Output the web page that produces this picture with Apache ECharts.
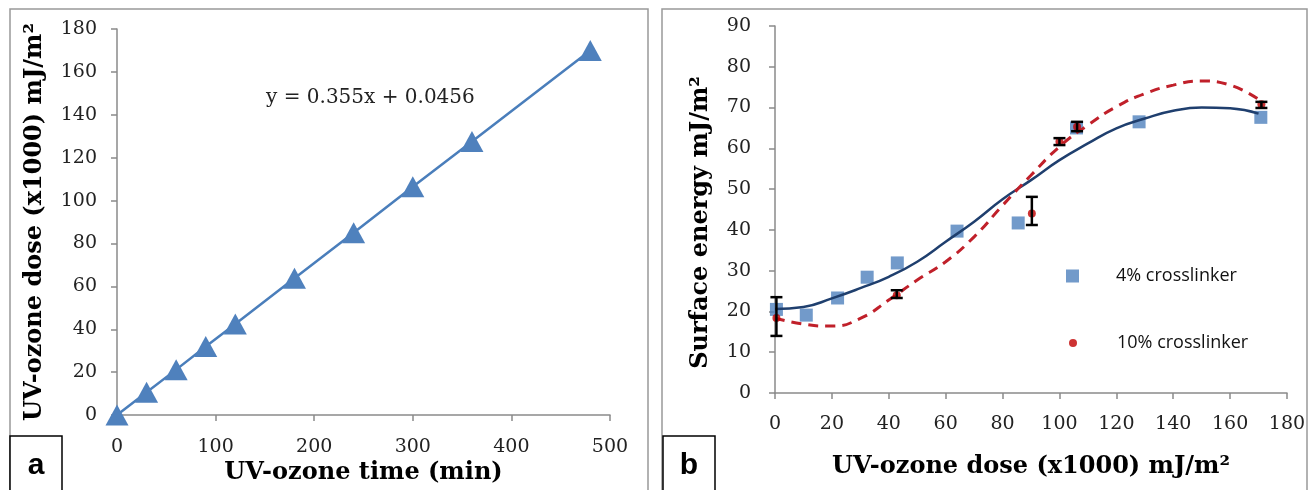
<!DOCTYPE html>
<html>
<head>
<meta charset="utf-8">
<script src="https://cdn.jsdelivr.net/npm/echarts@6/dist/echarts.min.js"></script>
<style>
html, body { margin: 0; padding: 0; background: #fff; }
#chart { width: 1310px; height: 490px; }
</style>
</head>
<body>
<div id="chart"></div>
<script>
// panel a: exposure time -> dose
const timeMin = [0, 30, 60, 90, 120, 180, 240, 300, 360, 480]
const doseK = [0, 10.6, 21.2, 32, 42.5, 63.8, 85, 106.5, 127.5, 170]

// panel b: surface energy
const dose4 = [0.5, 11, 22, 32.4, 43, 64, 85.5, 106, 128, 170.8]
const energy4 = [20.5, 19.1, 23.3, 28.4, 31.9, 39.7, 41.7, 65, 66.5, 67.6]
const dose10 = [0.5, 42.8, 90.3, 100, 106.2, 171]
const energy10 = [18.4, 24, 44, 61.6, 65.3, 70.8]
const errX = [0.5, 42.8, 90.3, 100, 106.2, 171]
const errLow = [14, 23.3, 41.2, 60.8, 64.2, 69.9]
const errHigh = [23.5, 25.2, 48.1, 62.5, 66.5, 71.4]

// trend lines
const fitX = [0, 10, 20, 30, 40, 50, 60, 70, 80, 90, 100, 110, 120, 130, 140, 150, 160, 170]
const fit4 = [20.6, 21.1, 23.2, 25.7, 28.5, 32.2, 37.1, 42, 47.5, 52.2, 57.1, 61.2, 64.9, 67.3, 69.2, 70.0, 69.8, 68.5]
const fit10 = [18.4, 16.9, 16.4, 18.3, 22.8, 27.7, 32.2, 38.3, 46, 53.4, 60.4, 65.7, 70.2, 73.4, 75.5, 76.5, 75.5, 72.0]

const serif = 'DejaVu Serif'
const axisGrey = '#8a8a8a'

const zip = (a, b) => a.map((v, i) => [v, b[i]])

function axisBase (extra) {
  return Object.assign({
    type: 'value',
    splitLine: { show: false },
    axisLine: { show: true, lineStyle: { color: axisGrey, width: 1.5 } },
    axisTick: { show: true, length: 6, lineStyle: { color: axisGrey, width: 1.5 } },
    axisLabel: { color: '#222', fontFamily: serif, fontSize: 19 },
    nameLocation: 'middle',
    nameTextStyle: { color: '#000', fontFamily: serif, fontWeight: 'bold', fontSize: 24 }
  }, extra)
}

function labelBox (x, text) {
  return {
    type: 'group',
    children: [
      { type: 'rect', shape: { x: x, y: 436, width: 52, height: 60 }, style: { fill: '#fff', stroke: '#000', lineWidth: 1.5 } },
      { type: 'text', x: x + 26, y: 466, style: { text: text, fill: '#000', font: 'bold 30px "Liberation Sans"', align: 'center', verticalAlign: 'middle' } }
    ]
  }
}

const option = {
  animation: false,
  backgroundColor: '#fff',
  grid: [
    { left: 117, top: 29, width: 493, height: 387 },
    { left: 775, top: 26, width: 512, height: 367 }
  ],
  xAxis: [
    axisBase({ gridIndex: 0, min: 0, max: 500, interval: 100, name: 'UV-ozone time (min)', nameGap: 45,
      axisLabel: { color: '#222', fontFamily: serif, fontSize: 19, margin: 22 } }),
    axisBase({ gridIndex: 1, min: 0, max: 180, interval: 20, name: 'UV-ozone dose (x1000) mJ/m²', nameGap: 62,
      axisLabel: { color: '#222', fontFamily: serif, fontSize: 19, margin: 22 } })
  ],
  yAxis: [
    axisBase({ gridIndex: 0, min: 0, max: 180, interval: 20, name: 'UV-ozone dose (x1000) mJ/m²', nameGap: 70,
      axisLabel: { color: '#222', fontFamily: serif, fontSize: 19, margin: 20 } }),
    axisBase({ gridIndex: 1, min: 0, max: 90, interval: 10, name: 'Surface energy mJ/m²', nameGap: 62,
      nameTextStyle: { color: '#000', fontFamily: serif, fontWeight: 'bold', fontSize: 24, padding: [0, 26, 0, 0] },
      axisLabel: { color: '#222', fontFamily: serif, fontSize: 19, margin: 24 } })
  ],
  legend: [
    {
      data: ['4% crosslinker'], left: 1061, top: 262, orient: 'vertical',
      icon: 'rect', itemWidth: 13, itemHeight: 13,
      textStyle: { color: '#111', fontFamily: 'Open Sans', fontSize: 18, padding: [0, 0, 0, 32] }
    },
    {
      data: ['10% crosslinker'], left: 1064, top: 329, orient: 'vertical',
      icon: 'circle', itemWidth: 8, itemHeight: 8,
      textStyle: { color: '#111', fontFamily: 'Open Sans', fontSize: 18, padding: [0, 0, 0, 35] }
    }
  ],
  series: [
    {
      name: 'dose',
      type: 'line',
      xAxisIndex: 0,
      yAxisIndex: 0,
      data: zip(timeMin, doseK),
      symbol: 'triangle',
      symbolSize: [23, 21],
      clip: false,
      lineStyle: { color: '#4a7ebb', width: 2.5 },
      itemStyle: { color: '#4f81bd' },
      markPoint: {
        symbolSize: 0,
        data: [{ coord: [257, 148] }],
        label: { show: true, position: 'inside', formatter: 'y = 0.355x + 0.0456', color: '#222', fontFamily: serif, fontSize: 20 }
      }
    },
    {
      name: '4% crosslinker',
      type: 'scatter',
      xAxisIndex: 1,
      yAxisIndex: 1,
      data: zip(dose4, energy4),
      symbol: 'rect',
      symbolSize: 13,
      clip: false,
      itemStyle: { color: '#4f81bd' },
      z: 2
    },
    {
      name: 'fit 4%',
      type: 'line',
      xAxisIndex: 1,
      yAxisIndex: 1,
      data: zip(fitX, fit4),
      smooth: true,
      showSymbol: false,
      lineStyle: { color: '#1f3f6e', width: 2.5 },
      z: 3
    },
    {
      name: 'fit 10%',
      type: 'line',
      xAxisIndex: 1,
      yAxisIndex: 1,
      data: zip(fitX, fit10),
      smooth: true,
      showSymbol: false,
      lineStyle: { color: '#c0202a', width: 3, type: [10, 7] },
      z: 3
    },
    {
      name: '10% crosslinker',
      type: 'scatter',
      xAxisIndex: 1,
      yAxisIndex: 1,
      data: zip(dose10, energy10),
      symbol: 'circle',
      symbolSize: 8,
      clip: false,
      itemStyle: { color: '#c00000' },
      z: 4
    },
    {
      name: 'error',
      type: 'custom',
      xAxisIndex: 1,
      yAxisIndex: 1,
      data: errX.map((x, i) => [x, errLow[i], errHigh[i]]),
      encode: { x: 0, y: [1, 2] },
      clip: false,
      z: 5,
      renderItem: function (params, api) {
        const x = api.value(0)
        const lo = api.coord([x, api.value(1)])
        const hi = api.coord([x, api.value(2)])
        const w = 6
        const st = { stroke: '#000', lineWidth: 2.5 }
        return {
          type: 'group',
          children: [
            { type: 'line', shape: { x1: lo[0], y1: lo[1], x2: hi[0], y2: hi[1] }, style: st },
            { type: 'line', shape: { x1: lo[0] - w, y1: lo[1], x2: lo[0] + w, y2: lo[1] }, style: st },
            { type: 'line', shape: { x1: hi[0] - w, y1: hi[1], x2: hi[0] + w, y2: hi[1] }, style: st }
          ]
        }
      }
    }
  ],
  graphic: [
    { type: 'rect', shape: { x: 10, y: 9, width: 638, height: 500 }, style: { fill: 'none', stroke: '#999', lineWidth: 1.5 }, silent: true },
    { type: 'rect', shape: { x: 662, y: 9, width: 645, height: 500 }, style: { fill: 'none', stroke: '#999', lineWidth: 1.5 }, silent: true },
    labelBox(10, 'a'),
    labelBox(663, 'b')
  ]
}

const chart = echarts.init(document.getElementById('chart'), null, { renderer: 'canvas' })
chart.setOption(option)
</script>
</body>
</html>
